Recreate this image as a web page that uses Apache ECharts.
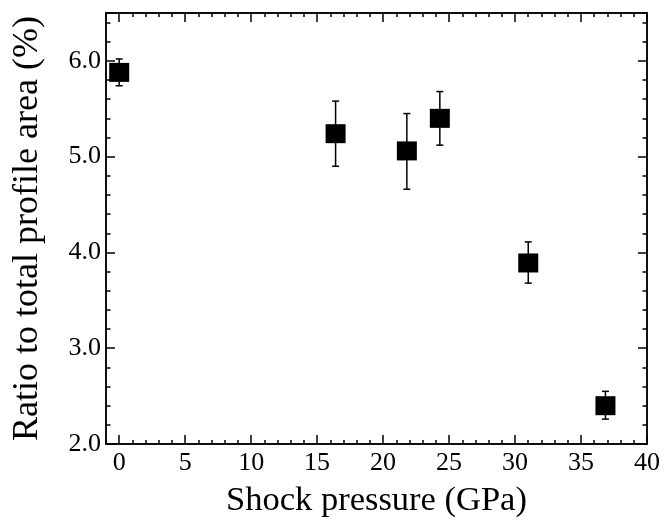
<!DOCTYPE html>
<html>
<head>
<meta charset="utf-8">
<script src="https://cdn.jsdelivr.net/npm/echarts@6/dist/echarts.min.js"></script>
<style>html,body{margin:0;padding:0;background:#fff}#c{width:664px;height:527px}</style>
</head>
<body>
<div id="c"></div>
<script>
const pressure = [0, 16.4, 21.8, 24.3, 31.0, 36.85];
const ratio = [5.88, 5.24, 5.06, 5.40, 3.89, 2.40];
const errLow = [5.74, 4.90, 4.66, 5.12, 3.68, 2.26];
const errHigh = [6.02, 5.58, 5.45, 5.68, 4.11, 2.55];
const xMajorTicks = [0, 5, 10, 15, 20, 25, 30, 35, 40];
const yMajorTicks = [2, 3, 4, 5, 6];
const xTitle = 'Shock pressure (GPa)';
const yTitle = 'Ratio to total profile area (%)';

const FONT = '"Liberation Serif", "Times New Roman", serif';
const chart = echarts.init(document.getElementById('c'), null, {renderer: 'canvas'});
const lineStyle = {color: '#000', width: 1.5};

function xAxisDef(pos, major, withLabels) {
  return {
    type: 'value', position: pos, min: -1, max: 40, interval: 1,
    axisLine: {show: true, onZero: false, lineStyle: lineStyle},
    axisTick: major ? {show: true, inside: true, length: 9, customValues: xMajorTicks, lineStyle: lineStyle}
                    : {show: true, inside: true, length: 4, lineStyle: lineStyle},
    axisLabel: withLabels ? {show: true, margin: 6, fontFamily: FONT, fontSize: 26, color: '#000',
      formatter: v => (Math.abs(v % 5) < 1e-9 && v >= 0) ? String(v) : ''} : {show: false},
    splitLine: {show: false},
    name: withLabels ? xTitle : '',
    nameLocation: 'middle', nameGap: 39,
    nameTextStyle: {fontFamily: FONT, fontSize: 34.5, color: '#000'}
  };
}
function yAxisDef(pos, major, withLabels) {
  return {
    type: 'value', position: pos, min: 2, max: 6.5, interval: 0.2,
    axisLine: {show: true, onZero: false, lineStyle: lineStyle},
    axisTick: major ? {show: true, inside: true, length: 9, customValues: yMajorTicks, lineStyle: lineStyle}
                    : {show: true, inside: true, length: 4.5, lineStyle: lineStyle},
    axisLabel: withLabels ? {show: true, margin: 5, fontFamily: FONT, fontSize: 26, color: '#000',
      formatter: v => (Math.abs(v - Math.round(v)) < 1e-6 && v < 6.45) ? v.toFixed(1) : ''} : {show: false},
    splitLine: {show: false},
    name: withLabels ? yTitle : '',
    nameLocation: 'middle', nameGap: 60, nameRotate: 90,
    nameTextStyle: {fontFamily: FONT, fontSize: 36, color: '#000'}
  };
}

const points = pressure.map((p, i) => [p, ratio[i]]);
const errs = pressure.map((p, i) => [p, errLow[i], errHigh[i]]);

chart.setOption({
  animation: false,
  backgroundColor: '#fff',
  grid: {left: 106, right: 17, top: 13, bottom: 83, containLabel: false, outerBoundsMode: 'none'},
  xAxis: [xAxisDef('bottom', false, true), xAxisDef('bottom', true, false),
          xAxisDef('top', false, false), xAxisDef('top', true, false)],
  yAxis: [yAxisDef('left', false, true), yAxisDef('left', true, false),
          yAxisDef('right', false, false), yAxisDef('right', true, false)],
  series: [
    {
      type: 'custom', xAxisIndex: 0, yAxisIndex: 0, data: errs, z: 2,
      renderItem: function (params, api) {
        const x = api.value(0);
        const lo = api.coord([x, api.value(1)]);
        const hi = api.coord([x, api.value(2)]);
        const cw = 3.5;
        const st = {stroke: '#000', lineWidth: 1.5};
        return {type: 'group', children: [
          {type: 'line', shape: {x1: lo[0], y1: lo[1], x2: hi[0], y2: hi[1]}, style: st},
          {type: 'line', shape: {x1: lo[0] - cw, y1: lo[1], x2: lo[0] + cw, y2: lo[1]}, style: st},
          {type: 'line', shape: {x1: hi[0] - cw, y1: hi[1], x2: hi[0] + cw, y2: hi[1]}, style: st}
        ]};
      }
    },
    {
      type: 'scatter', xAxisIndex: 0, yAxisIndex: 0, data: points, z: 3,
      symbol: 'rect', symbolSize: [20, 19],
      itemStyle: {color: '#000', opacity: 1}
    }
  ]
});
</script>
</body>
</html>
